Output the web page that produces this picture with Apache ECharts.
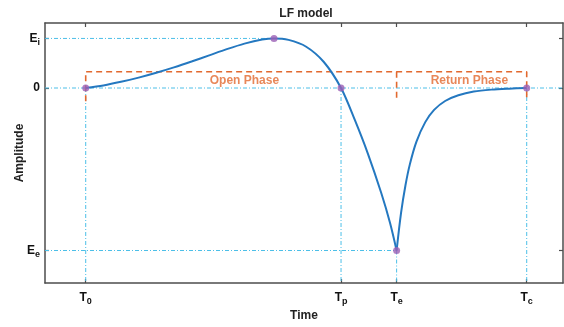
<!DOCTYPE html>
<html>
<head>
<meta charset="utf-8">
<script src="https://cdn.jsdelivr.net/npm/echarts@6/dist/echarts.min.js"></script>
<style>
  html, body { margin: 0; padding: 0; background: #fff; }
  #chart { width: 564px; height: 327px; }
</style>
</head>
<body>
<div id="chart"></div>
<script>
// instants of the cycle (T0 = 0, Tc = 1)
const timeSubs = ["0", "p", "e", "c"];
const timeValues = [0, 0.579, 0.705, 1.0];
// amplitude levels Ee, 0, Ei
const levelMain = ["E", "0", "E"];
const levelSubs = ["e", "", "i"];
const levelValues = [-1, 0, 0.305];
const peakTime = 0.427;

// flow derivative
const openTime = [0, 0.04, 0.08, 0.12, 0.16, 0.20, 0.24, 0.28, 0.32, 0.36, 0.40, 0.427, 0.46, 0.50, 0.54, 0.579, 0.61, 0.64, 0.67, 0.69, 0.705];
const openAmp = [0, 0.016, 0.038, 0.064, 0.094, 0.127, 0.163, 0.201, 0.239, 0.273, 0.298, 0.305, 0.296, 0.254, 0.16, 0, -0.195, -0.405, -0.645, -0.829, -1];
const returnTime = [0.705, 0.715, 0.725, 0.735, 0.75, 0.77, 0.79, 0.815, 0.845, 0.88, 0.92, 0.96, 1.0];
const returnAmp = [-1, -0.77, -0.60, -0.47, -0.33, -0.21, -0.135, -0.08, -0.045, -0.022, -0.01, -0.004, 0];

const phaseNames = ["Open Phase", "Return Phase"];
const phaseLabelTime = [0.36, 0.87];
const phaseLabelAmp = 0.046;
const bracketTop = 0.1;
const bracketBottom = -0.082;

const xMin = -0.0923, xMax = 1.0823;
const yMin = -1.2, yMax = 0.4;

const FONT = "Liberation Sans, Arial, sans-serif";
const BLUE = "#2478c0";
const CYAN = "#4cbfe8";
const ORANGE = "#e2692f";
const PURPLE = "#9b5fb5";
const FRAME = "#4d4d4d";

const zip = (xs, ys) => xs.map((x, i) => [x, ys[i]]);
const [T0, Tp, Te, Tc] = timeValues;
const [Ee, , Ei] = levelValues;

const rich = {
  m: { fontSize: 12, fontWeight: "bold", color: "#111", fontFamily: FONT },
  s: { fontSize: 9, fontWeight: "bold", color: "#111", fontFamily: FONT, padding: [8, 0, 0, 0] }
};

function timeLabel(v) {
  const i = timeValues.findIndex(t => Math.abs(t - v) < 1e-6);
  return i < 0 ? "" : "{m|T}{s|" + timeSubs[i] + "}";
}
function levelLabel(v) {
  const i = levelValues.findIndex(t => Math.abs(t - v) < 1e-6);
  if (i < 0) return "";
  return levelSubs[i] ? "{m|" + levelMain[i] + "}{s|" + levelSubs[i] + "}" : "{m|" + levelMain[i] + "}";
}

const guideLines = [
  [[xMin, Ei], [peakTime, Ei]],
  [[xMin, 0], [xMax, 0]],
  [[xMin, Ee], [Te, Ee]],
  [[T0, 0], [T0, yMin]],
  [[Tp, 0], [Tp, yMin]],
  [[Te, Ee], [Te, yMin]],
  [[Tc, 0], [Tc, yMin]]
];
const bracketLines = [
  [[T0, bracketBottom], [T0, bracketTop], [Tc, bracketTop], [Tc, bracketBottom]],
  [[Te, bracketTop], [Te, bracketBottom]]
];
const keyPoints = [[T0, 0], [peakTime, Ei], [Tp, 0], [Te, Ee], [Tc, 0]];

const frameAxis = {
  axisLine: { show: true, onZero: false, lineStyle: { color: FRAME, width: 1.5 } },
  axisTick: { show: true, inside: true, length: 4, lineStyle: { color: FRAME, width: 1.2 } },
  splitLine: { show: false }
};
const nameStyle = { fontSize: 12, fontWeight: "bold", color: "#222", fontFamily: FONT };

const chart = echarts.init(document.getElementById("chart"));
chart.setOption({
  animation: false,
  backgroundColor: "#fff",
  title: {
    text: "LF model",
    left: 304,
    textAlign: "center",
    top: 6,
    padding: 2,
    textStyle: { fontSize: 12, fontWeight: "bold", color: "#222", fontFamily: FONT }
  },
  grid: { left: 45, right: 1, top: 23, bottom: 42 },
  xAxis: [
    {
      type: "value", min: xMin, max: xMax, position: "bottom",
      name: "Time", nameLocation: "middle", nameGap: 27, nameMoveOverlap: false,
      nameTextStyle: nameStyle,
      ...frameAxis,
      axisTick: { ...frameAxis.axisTick, customValues: timeValues },
      axisLabel: { customValues: timeValues, margin: 6, formatter: timeLabel, rich }
    },
    {
      type: "value", min: xMin, max: xMax, position: "top",
      ...frameAxis,
      axisTick: { ...frameAxis.axisTick, customValues: timeValues },
      axisLabel: { show: false }
    }
  ],
  yAxis: [
    {
      type: "value", min: yMin, max: yMax, position: "left",
      name: "Amplitude", nameLocation: "middle", nameGap: 19, nameMoveOverlap: false,
      nameTextStyle: nameStyle,
      ...frameAxis,
      axisTick: { ...frameAxis.axisTick, customValues: levelValues },
      axisLabel: { customValues: levelValues, margin: 5, formatter: levelLabel, rich }
    },
    {
      type: "value", min: yMin, max: yMax, position: "right",
      ...frameAxis,
      axisTick: { ...frameAxis.axisTick, customValues: levelValues },
      axisLabel: { show: false }
    }
  ],
  series: [
    ...guideLines.map(seg => ({
      type: "line", data: seg, symbol: "none", silent: true, z: 1,
      lineStyle: { color: CYAN, width: 1, type: [4, 2, 1, 2] }
    })),
    ...bracketLines.map(seg => ({
      type: "line", data: seg, symbol: "none", silent: true, z: 2,
      lineStyle: { color: ORANGE, width: 1.6, type: [6, 4] }
    })),
    {
      type: "scatter", symbolSize: 0, silent: true, z: 3,
      data: phaseNames.map((n, i) => ({ name: n, value: [phaseLabelTime[i], phaseLabelAmp] })),
      label: {
        show: true, position: "inside", formatter: "{b}",
        fontSize: 12, fontWeight: "bold", color: ORANGE, fontFamily: FONT
      }
    },
    {
      type: "line", data: zip(openTime, openAmp), symbol: "none", smooth: 0.3, z: 4,
      lineStyle: { color: BLUE, width: 2 }
    },
    {
      type: "line", data: zip(returnTime, returnAmp), symbol: "none", smooth: 0.3, z: 4,
      lineStyle: { color: BLUE, width: 2 }
    },
    {
      type: "scatter", data: keyPoints, symbol: "circle", symbolSize: 7, z: 5,
      itemStyle: { color: PURPLE }
    }
  ]
});
</script>
</body>
</html>
